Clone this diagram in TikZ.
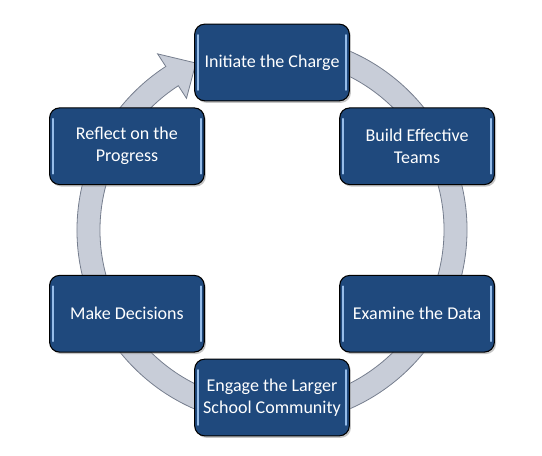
\documentclass[tikz,border=0pt]{standalone}
\usepackage{fontspec}
\setmainfont{Carlito}
\usetikzlibrary{calc}
\usetikzlibrary{shadows}
\definecolor{sblue}{RGB}{31,73,125}
\definecolor{sgloss}{RGB}{150,188,232}
\definecolor{rgrey}{RGB}{200,205,216}
\definecolor{redge}{RGB}{118,126,142}

\begin{document}
\begin{tikzpicture}[x=0.75pt, y=0.75pt,
    stage/.style={draw=black, line width=0.8pt, fill=sblue, rounded corners=7.5pt,
        minimum width=116pt, minimum height=57.5pt, inner sep=2pt, align=center,
        text=white, font=\fontsize{13.5}{16.5}\selectfont,
        drop shadow={shadow xshift=1.2pt, shadow yshift=-1.5pt, fill=black!45},
        path picture={
            \draw[sgloss, line width=1.4pt, line cap=round]
                ($(path picture bounding box.north west)+(3.5,-11)$) -- ($(path picture bounding box.south west)+(3.5,11)$);
            \draw[sgloss, line width=1.4pt, line cap=round]
                ($(path picture bounding box.north east)+(-3.5,-11)$) -- ($(path picture bounding box.south east)+(-3.5,11)$);
        }},
    ring/.style={fill=rgrey, draw=redge, line width=0.6pt},
]
\useasboundingbox (0,0) rectangle (542,456);
\coordinate (hub) at (272,226);

% circular arrow behind the stages
\draw[ring] ($(hub)+(80:195)$) arc[start angle=80, end angle=-237, radius=195]
    -- ($(hub)+(123:210)$) -- ($(hub)+(114.5:183.5)$) -- ($(hub)+(123:157)$)
    -- ($(hub)+(123:172)$) arc[start angle=-237, end angle=80, radius=172] -- cycle;

\node[stage] (charge) at ($(hub)+(90:167.5)$) {Initiate the Charge};
\node[stage] (teams) at ($(hub)+(30:167.5)$) {Build Effective\\Teams};
\node[stage] (data) at ($(hub)+(-30:167.5)$) {Examine the Data};
\node[stage] (engage) at ($(hub)+(-90:167.5)$) {Engage the Larger\\School Community};
\node[stage] (decide) at ($(hub)+(210:167.5)$) {Make Decisions};
\node[stage] (reflect) at ($(hub)+(150:167.5)$) {Reflect on the\\Progress};
\end{tikzpicture}
\end{document}
